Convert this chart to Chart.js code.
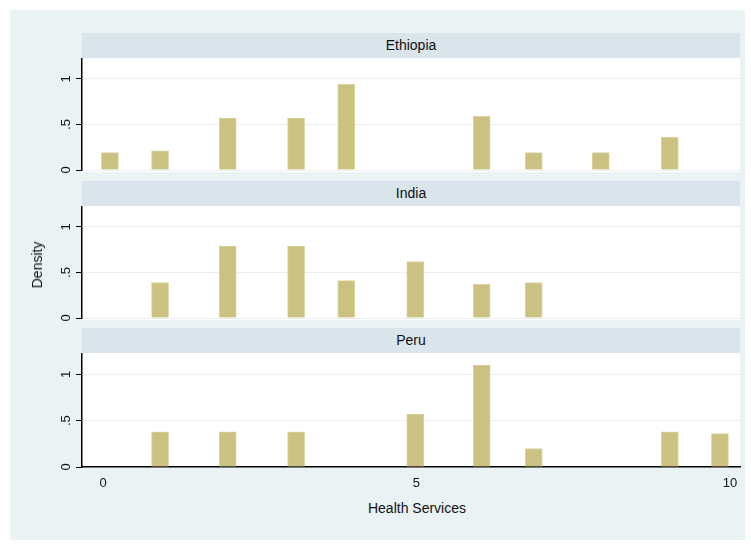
<!DOCTYPE html>
<html>
<head>
<script src="https://cdn.jsdelivr.net/npm/chart.js@4"></script>
<style>
  body { margin: 0; background: #fff; font-family: "Liberation Sans", Arial, sans-serif; }
  #wrap { position: relative; width: 751px; height: 551px; }
  #bg { position: absolute; left: 10px; top: 10px; width: 735px; height: 530px; background: #eaf2f3; }
  .head { position: absolute; left: 82px; width: 658px; height: 25px; background: #d9e5eb;
          font-size: 14px; text-align: center; line-height: 25px; color: #111; }
  .pbg { position: absolute; left: 82px; width: 658px; height: 114px; background: #fff; }
  .cv { position: absolute; left: 40px; width: 700px; }
  #ylab { position: absolute; left: 37px; top: 265px; transform: translate(-50%, -50%) rotate(-90deg);
          font-size: 14px; color: #111; }
  #xlab { position: absolute; left: 417px; top: 508px; transform: translate(-50%, -50%); font-size: 14px; color: #111; }
</style>
</head>
<body>
<div id="wrap">
  <div id="bg"></div>
  <div class="head" style="top:33px">Ethiopia</div>
  <div class="pbg" style="top:58px"></div>
  <div class="head" style="top:181px">India</div>
  <div class="pbg" style="top:206px"></div>
  <div class="head" style="top:328px">Peru</div>
  <div class="pbg" style="top:353px"></div>
  <div class="cv" style="top:58px;height:124px"><canvas id="c0"></canvas></div>
  <div class="cv" style="top:206px;height:124px"><canvas id="c1"></canvas></div>
  <div class="cv" style="top:353px;height:145px;width:711px"><canvas id="c2"></canvas></div>
  <div id="ylab">Density</div>
  <div id="xlab">Health Services</div>
</div>
<script>
const countries = ['Ethiopia', 'India', 'Peru'];
const ethiopiaX = [0.11, 0.91, 1.99, 3.08, 3.88, 6.04, 6.87, 7.94, 9.04];
const ethiopiaY = [0.19, 0.21, 0.57, 0.57, 0.94, 0.59, 0.19, 0.19, 0.36];
const indiaX = [0.91, 1.99, 3.08, 3.88, 4.98, 6.04, 6.87];
const indiaY = [0.39, 0.79, 0.79, 0.41, 0.62, 0.37, 0.39];
const peruX = [0.91, 1.99, 3.08, 4.98, 6.04, 6.87, 9.04, 9.84];
const peruY = [0.38, 0.38, 0.38, 0.57, 1.1, 0.2, 0.38, 0.36];
const xTicks = [0, 5, 10];
const yTicks = [0, 0.5, 1];

const panels = [[ethiopiaX, ethiopiaY], [indiaX, indiaY], [peruX, peruY]];

// rotated y tick labels, drawn by hand so they do not pad the chart area
const yLabels = {
  id: 'yLabels',
  afterDraw(chart) {
    const { ctx, scales: { y } } = chart;
    ctx.save();
    ctx.fillStyle = '#111';
    ctx.font = '13px "Liberation Sans"';
    ctx.textAlign = 'center';
    ctx.textBaseline = 'bottom';
    yTicks.forEach(v => {
      const py = y.getPixelForValue(v);
      ctx.save();
      ctx.translate(y.right - 9, py);
      ctx.rotate(-Math.PI / 2);
      ctx.fillText(v === 0.5 ? '.5' : String(v), 0, 0);
      ctx.restore();
    });
    ctx.restore();
  }
};

panels.forEach(([xs, ys], i) => {
  const last = i === panels.length - 1;
  new Chart(document.getElementById('c' + i), {
    type: 'bar',
    data: {
      datasets: [{
        label: countries[i],
        data: xs.map((x, j) => ({ x: x, y: ys[j] })),
        backgroundColor: '#cbc282',
        borderColor: '#d9d3a0',
        borderWidth: 1,
        barThickness: 17
      }]
    },
    options: {
      animation: false,
      responsive: true,
      maintainAspectRatio: false,
      layout: { padding: { right: last ? 11 : 0, bottom: last ? 0 : 12 } },
      plugins: { legend: { display: false }, tooltip: { enabled: false } },
      scales: {
        x: {
          type: 'linear', min: -0.335, max: 10.16,
          display: last,
          offset: false,
          grid: { display: false, drawTicks: true, tickLength: 6, tickColor: '#000' },
          border: { color: '#000', width: 1.5 },
          afterBuildTicks: a => { a.ticks = xTicks.map(v => ({ value: v })); },
          afterFit: a => { if (last) a.height = 31; },
          ticks: { color: '#111', font: { size: 13, family: 'Liberation Sans' }, maxRotation: 0 }
        },
        y: {
          min: 0, max: 1.23,
          grid: { color: '#eaf0f2', drawTicks: true, tickLength: 6, tickColor: '#000' },
          border: { color: '#000', width: 1.5 },
          afterBuildTicks: a => { a.ticks = yTicks.map(v => ({ value: v })); },
          afterFit: a => { a.width = 42; },
          ticks: { display: false }
        }
      }
    },
    plugins: [yLabels]
  });
});
</script>
</body>
</html>
